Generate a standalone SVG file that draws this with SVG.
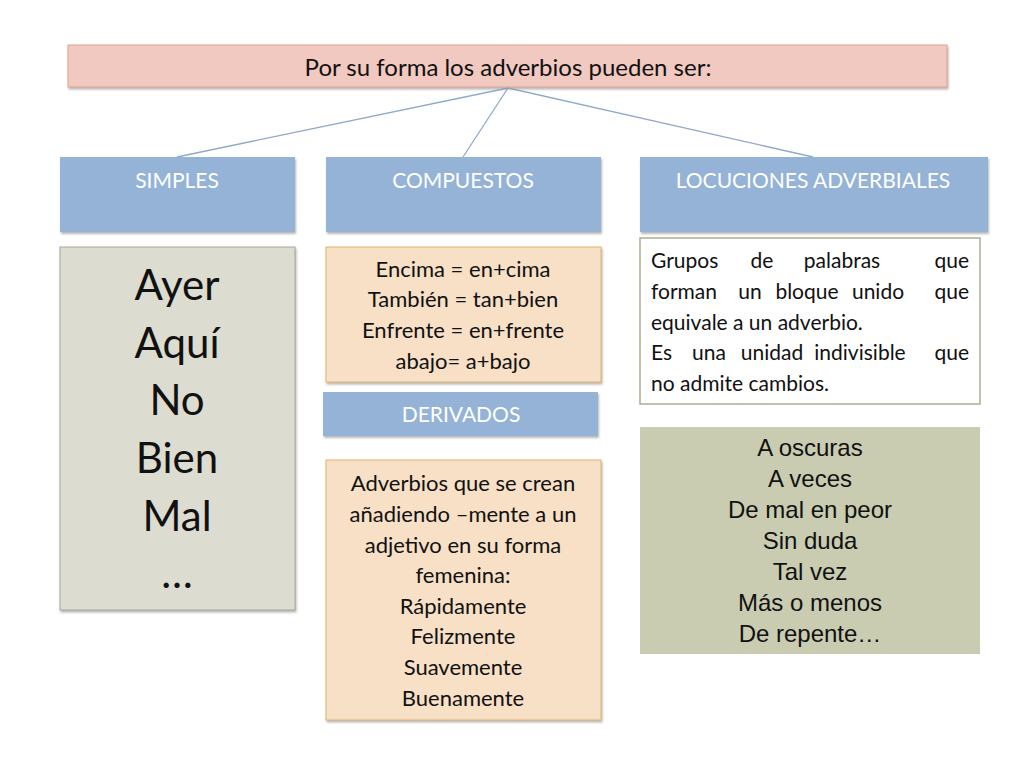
<svg xmlns="http://www.w3.org/2000/svg" width="1024" height="768" viewBox="0 0 1024 768">
<style>
text{font-family:Lato,"Open Sans","Liberation Sans",sans-serif;text-anchor:middle}
text.s{text-anchor:start}
text.e{text-anchor:end}
text.a{font-family:"Liberation Sans",Arial,sans-serif;font-size:24px;fill:#111}
.hd{fill:#95b3d7;filter:url(#sh)}
.ht{fill:#fff;font-size:21px}
.c{stroke:#8eaacb;stroke-width:1.3;fill:none}
.b{font-size:22px;fill:#111}
.g{font-size:21px;fill:#111}
.big{font-size:42px;fill:#111}
</style>
<defs><filter id="sh" x="-5%" y="-5%" width="110%" height="115%"><feDropShadow dx="1" dy="2" stdDeviation="1" flood-color="#999" flood-opacity="0.7"/></filter></defs>
<rect width="1024" height="768" fill="#fff"/>
<g id="connectors">
<line class="c" x1="508" y1="88" x2="177" y2="157"/>
<line class="c" x1="508" y1="88" x2="463" y2="157"/>
<line class="c" x1="508" y1="88" x2="813" y2="157"/>
</g>
<g id="title"><rect x="68" y="45" width="879" height="42" fill="#f2c9c0" stroke="#e0a394" filter="url(#sh)"/><text x="508" y="76" font-size="24" fill="#111">Por su forma los adverbios pueden ser:</text></g>
<g id="simples"><rect class="hd" x="60" y="157" width="235" height="75"/><text class="ht" x="177" y="188">SIMPLES</text></g>
<g id="compuestos"><rect class="hd" x="326" y="157" width="275" height="75"/><text class="ht" x="463" y="188">COMPUESTOS</text></g>
<g id="locuciones"><rect class="hd" x="640" y="157" width="348" height="75"/><text class="ht" x="813" y="188">LOCUCIONES ADVERBIALES</text></g>
<g id="simples-list"><rect x="60" y="247" width="235" height="363" fill="#dcdcd0" stroke="#a8a89a" filter="url(#sh)"/>
<text class="big" x="177" y="300">Ayer</text><text class="big" x="177" y="358">Aquí</text><text class="big" x="177" y="415">No</text><text class="big" x="177" y="473">Bien</text><text class="big" x="177" y="531">Mal</text><text class="big" x="177" y="588">…</text></g>
<g id="compuestos-list"><rect x="326" y="247" width="275" height="135" fill="#f7e0c6" stroke="#e1b56f" filter="url(#sh)"/>
<text class="b" x="463" y="277">Encima = en+cima</text><text class="b" x="463" y="307">También = tan+bien</text><text class="b" x="463" y="338">Enfrente = en+frente</text><text class="b" x="463" y="369">abajo= a+bajo</text></g>
<g id="derivados"><rect class="hd" x="323" y="392" width="275" height="44"/><text class="ht" x="461" y="422">DERIVADOS</text></g>
<g id="derivados-list"><rect x="326" y="460" width="275" height="260" fill="#f7e0c6" stroke="#e1b56f" filter="url(#sh)"/>
<text class="b" x="463" y="491">Adverbios que se crean</text><text class="b" x="463" y="522">añadiendo –mente a un</text><text class="b" x="463" y="553">adjetivo en su forma</text><text class="b" x="463" y="583">femenina:</text><text class="b" x="463" y="614">Rápidamente</text><text class="b" x="463" y="644">Felizmente</text><text class="b" x="463" y="675">Suavemente</text><text class="b" x="463" y="706">Buenamente</text></g>
<g id="locuciones-def"><rect x="640" y="238" width="340" height="166" fill="#fff" stroke="#a8ad94" stroke-width="1.5"/>
<text class="g s" x="651" y="268">Grupos</text><text class="g" x="762" y="268">de</text><text class="g" x="842" y="268">palabras</text><text class="g e" x="969" y="268">que</text>
<text class="g s" x="651" y="299">forman</text><text class="g" x="750" y="299">un</text><text class="g" x="807" y="299">bloque</text><text class="g" x="878" y="299">unido</text><text class="g e" x="969" y="299">que</text>
<text class="g s" x="651" y="330">equivale a un adverbio.</text>
<text class="g s" x="651" y="360">Es</text><text class="g" x="709" y="360">una</text><text class="g" x="772" y="360">unidad</text><text class="g" x="860" y="360">indivisible</text><text class="g e" x="969" y="360">que</text>
<text class="g s" x="651" y="391">no admite cambios.</text></g>
<g id="locuciones-list"><rect x="640" y="427" width="340" height="227" fill="#c9ccb1"/>
<text class="a" x="810" y="456">A oscuras</text><text class="a" x="810" y="487">A veces</text><text class="a" x="810" y="518">De mal en peor</text><text class="a" x="810" y="549">Sin duda</text><text class="a" x="810" y="580">Tal vez</text><text class="a" x="810" y="611">Más o menos</text><text class="a" x="810" y="642">De repente…</text></g>
</svg>
